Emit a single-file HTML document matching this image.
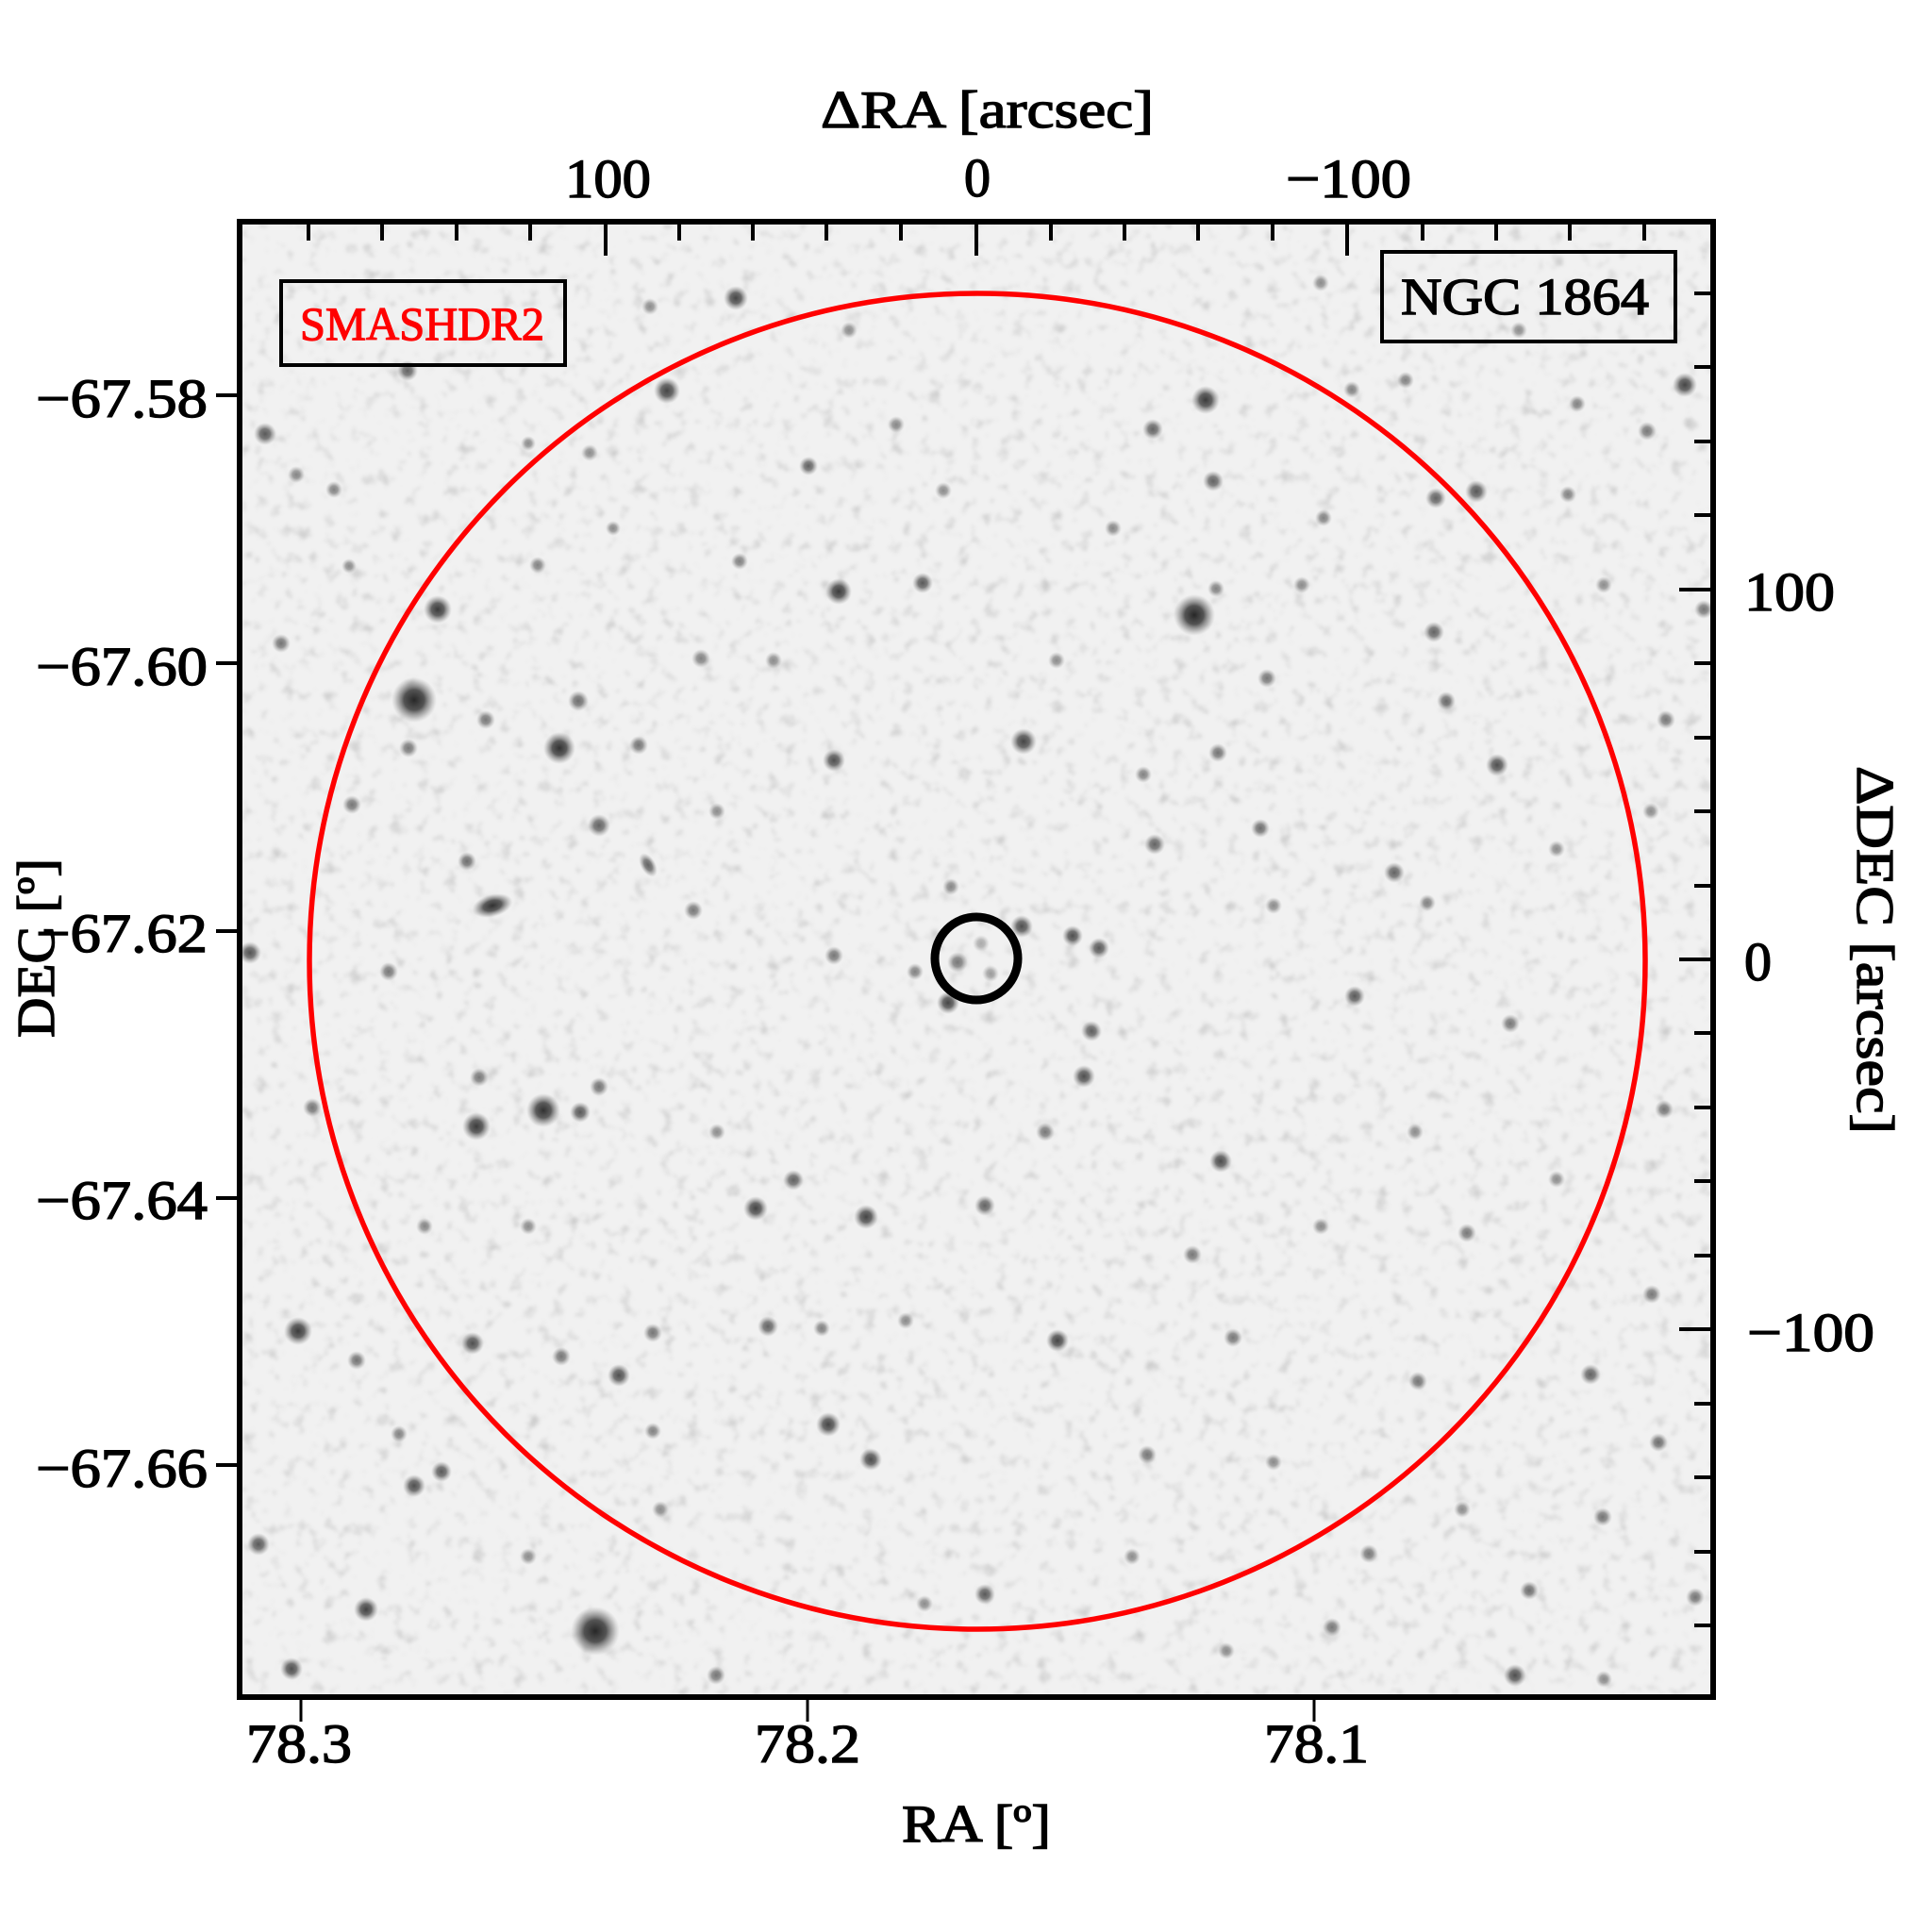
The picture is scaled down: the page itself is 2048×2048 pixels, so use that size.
<!DOCTYPE html>
<html>
<head>
<meta charset="utf-8">
<style>
html,body{margin:0;padding:0;background:#fff;}
svg{display:block;}
.t{font-family:"Liberation Serif","DejaVu Serif",serif;fill:#000;stroke:#000;stroke-width:1.4;}
</style>
</head>
<body>
<svg width="2048" height="2048" viewBox="0 0 2048 2048" xmlns="http://www.w3.org/2000/svg">
<defs>
<radialGradient id="g">
<stop offset="0" stop-color="#1c1c1c" stop-opacity="0.95"/>
<stop offset="0.45" stop-color="#383838" stop-opacity="0.85"/>
<stop offset="0.75" stop-color="#707070" stop-opacity="0.45"/>
<stop offset="1" stop-color="#999" stop-opacity="0"/>
</radialGradient>
<clipPath id="pc"><rect x="257" y="238" width="1556" height="1558"/></clipPath>
<filter id="nz" filterUnits="userSpaceOnUse" x="257" y="238" width="1556" height="1558">
<feTurbulence type="fractalNoise" baseFrequency="0.07" numOctaves="3" seed="7" result="t"/>
<feColorMatrix in="t" type="matrix" values="0 0 0 0 0.3  0 0 0 0 0.3  0 0 0 0 0.3  3 0 0 0 -1.7" result="c"/>
<feGaussianBlur in="c" stdDeviation="1.6"/>
</filter>
</defs>

<rect x="0" y="0" width="2048" height="2048" fill="#fff"/>
<!-- plot background -->
<rect x="254" y="235" width="1562" height="1564" fill="#f1f1f1"/>
<g clip-path="url(#pc)">
<rect x="257" y="238" width="1556" height="1558" fill="#000" filter="url(#nz)" opacity="0.4"/>
<g fill="url(#g)">
<!-- upper-left -->
<circle cx="439" cy="742" r="24"/>
<circle cx="593" cy="793" r="17" opacity=".95"/>
<circle cx="464" cy="646" r="15" opacity=".9"/>
<circle cx="707" cy="414" r="14" opacity=".85"/>
<circle cx="780" cy="316" r="13" opacity=".85"/>
<circle cx="889" cy="627" r="14" opacity=".9"/>
<circle cx="884" cy="806" r="12" opacity=".8"/>
<circle cx="978" cy="618" r="11" opacity=".75"/>
<circle cx="857" cy="494" r="10" opacity=".7"/>
<circle cx="281" cy="460" r="12" opacity=".75"/>
<circle cx="432" cy="393" r="11" opacity=".7"/>
<circle cx="613" cy="743" r="11" opacity=".65"/>
<circle cx="635" cy="875" r="12" opacity=".7"/>
<circle cx="495" cy="913" r="10" opacity=".65"/>
<circle cx="265" cy="1010" r="12" opacity=".75"/>
<circle cx="373" cy="853" r="10" opacity=".6"/>
<circle cx="298" cy="682" r="10" opacity=".6"/>
<circle cx="735" cy="965" r="10" opacity=".6"/>
<circle cx="677" cy="790" r="10" opacity=".6"/>
<circle cx="433" cy="793" r="10" opacity=".6"/>
<circle cx="412" cy="1030" r="10" opacity=".6"/>
<circle cx="515" cy="763" r="10" opacity=".6"/>
<circle cx="743" cy="698" r="10" opacity=".55"/>
<ellipse cx="687" cy="917" rx="14" ry="8" transform="rotate(60 687 917)" opacity=".7"/>
<circle cx="354" cy="519" r="9" opacity=".55"/>
<circle cx="570" cy="599" r="9" opacity=".55"/>
<circle cx="689" cy="325" r="9" opacity=".5"/>
<circle cx="314" cy="503" r="9" opacity=".5"/>
<circle cx="784" cy="595" r="9" opacity=".55"/>
<circle cx="1008" cy="940" r="9" opacity=".5"/>
<circle cx="884" cy="1013" r="10" opacity=".6"/>
<circle cx="970" cy="1030" r="9" opacity=".55"/>
<circle cx="625" cy="480" r="9" opacity=".5"/>
<circle cx="820" cy="700" r="9" opacity=".5"/>
<circle cx="560" cy="470" r="8" opacity=".5"/>
<circle cx="950" cy="450" r="9" opacity=".5"/>
<circle cx="900" cy="350" r="9" opacity=".5"/>
<circle cx="1000" cy="520" r="9" opacity=".5"/>
<circle cx="370" cy="600" r="8" opacity=".5"/>
<circle cx="650" cy="560" r="8" opacity=".5"/>
<circle cx="760" cy="860" r="9" opacity=".5"/>
<ellipse cx="522" cy="960" rx="22" ry="12" transform="rotate(-15 522 960)" opacity=".95"/>
<!-- upper-right -->
<circle cx="1266" cy="652" r="22"/>
<circle cx="1278" cy="424" r="15" opacity=".9"/>
<circle cx="1786" cy="408" r="13" opacity=".85"/>
<circle cx="1222" cy="455" r="11" opacity=".7"/>
<circle cx="1286" cy="510" r="11" opacity=".7"/>
<circle cx="1565" cy="521" r="12" opacity=".75"/>
<circle cx="1522" cy="528" r="11" opacity=".7"/>
<circle cx="1085" cy="786" r="14" opacity=".85"/>
<circle cx="1520" cy="670" r="11" opacity=".7"/>
<circle cx="1587" cy="811" r="12" opacity=".8"/>
<circle cx="1533" cy="743" r="10" opacity=".65"/>
<circle cx="1336" cy="878" r="10" opacity=".65"/>
<circle cx="1224" cy="895" r="11" opacity=".7"/>
<circle cx="1478" cy="925" r="11" opacity=".7"/>
<circle cx="1137" cy="992" r="11" opacity=".8"/>
<circle cx="1343" cy="719" r="10" opacity=".6"/>
<circle cx="1291" cy="798" r="10" opacity=".6"/>
<circle cx="1766" cy="763" r="10" opacity=".6"/>
<circle cx="1806" cy="646" r="10" opacity=".6"/>
<circle cx="1403" cy="549" r="9" opacity=".55"/>
<circle cx="1746" cy="457" r="10" opacity=".6"/>
<circle cx="1490" cy="403" r="9" opacity=".55"/>
<circle cx="1433" cy="413" r="9" opacity=".55"/>
<circle cx="1662" cy="524" r="9" opacity=".55"/>
<circle cx="1672" cy="428" r="9" opacity=".55"/>
<circle cx="1513" cy="957" r="9" opacity=".55"/>
<circle cx="1212" cy="821" r="9" opacity=".55"/>
<circle cx="1289" cy="624" r="9" opacity=".55"/>
<circle cx="1083" cy="982" r="12" opacity=".8"/>
<circle cx="1165" cy="1005" r="11" opacity=".75"/>
<circle cx="1120" cy="700" r="9" opacity=".5"/>
<circle cx="1180" cy="560" r="9" opacity=".5"/>
<circle cx="1380" cy="620" r="9" opacity=".5"/>
<circle cx="1650" cy="900" r="9" opacity=".5"/>
<circle cx="1700" cy="620" r="9" opacity=".5"/>
<circle cx="1400" cy="300" r="9" opacity=".5"/>
<circle cx="1610" cy="350" r="9" opacity=".5"/>
<circle cx="1750" cy="860" r="9" opacity=".5"/>
<circle cx="1350" cy="960" r="9" opacity=".5"/>
<!-- cluster core -->
<circle cx="1015" cy="1020" r="11" opacity=".6"/>
<circle cx="1050" cy="1032" r="9" opacity=".4"/>
<circle cx="1040" cy="1000" r="9" opacity=".35"/>
<!-- lower-left -->
<circle cx="631" cy="1729" r="26"/>
<circle cx="576" cy="1177" r="18" opacity=".95"/>
<circle cx="505" cy="1194" r="15" opacity=".9"/>
<circle cx="615" cy="1179" r="11" opacity=".75"/>
<circle cx="316" cy="1411" r="15" opacity=".9"/>
<circle cx="501" cy="1424" r="12" opacity=".8"/>
<circle cx="656" cy="1458" r="12" opacity=".8"/>
<circle cx="801" cy="1281" r="13" opacity=".85"/>
<circle cx="918" cy="1290" r="13" opacity=".85"/>
<circle cx="841" cy="1251" r="11" opacity=".7"/>
<circle cx="814" cy="1406" r="11" opacity=".7"/>
<circle cx="878" cy="1510" r="13" opacity=".85"/>
<circle cx="923" cy="1547" r="12" opacity=".8"/>
<circle cx="468" cy="1560" r="11" opacity=".75"/>
<circle cx="439" cy="1575" r="12" opacity=".8"/>
<circle cx="388" cy="1706" r="13" opacity=".85"/>
<circle cx="309" cy="1769" r="12" opacity=".8"/>
<circle cx="274" cy="1637" r="12" opacity=".75"/>
<circle cx="378" cy="1442" r="10" opacity=".6"/>
<circle cx="595" cy="1438" r="10" opacity=".6"/>
<circle cx="635" cy="1152" r="10" opacity=".6"/>
<circle cx="508" cy="1142" r="10" opacity=".6"/>
<circle cx="331" cy="1174" r="10" opacity=".6"/>
<circle cx="692" cy="1413" r="10" opacity=".6"/>
<circle cx="759" cy="1776" r="10" opacity=".6"/>
<circle cx="1005" cy="1063" r="12" opacity=".85"/>
<circle cx="423" cy="1520" r="9" opacity=".55"/>
<circle cx="871" cy="1408" r="9" opacity=".55"/>
<circle cx="692" cy="1517" r="9" opacity=".55"/>
<circle cx="560" cy="1300" r="9" opacity=".5"/>
<circle cx="700" cy="1600" r="9" opacity=".5"/>
<circle cx="450" cy="1300" r="9" opacity=".5"/>
<circle cx="760" cy="1200" r="9" opacity=".5"/>
<circle cx="960" cy="1400" r="9" opacity=".5"/>
<circle cx="560" cy="1650" r="9" opacity=".5"/>
<circle cx="980" cy="1700" r="9" opacity=".5"/>
<!-- lower-right -->
<circle cx="1121" cy="1421" r="12" opacity=".85"/>
<circle cx="1149" cy="1141" r="12" opacity=".8"/>
<circle cx="1157" cy="1093" r="11" opacity=".7"/>
<circle cx="1294" cy="1231" r="12" opacity=".8"/>
<circle cx="1436" cy="1056" r="11" opacity=".75"/>
<circle cx="1044" cy="1278" r="11" opacity=".7"/>
<circle cx="1044" cy="1690" r="11" opacity=".75"/>
<circle cx="1606" cy="1776" r="12" opacity=".8"/>
<circle cx="1686" cy="1457" r="11" opacity=".7"/>
<circle cx="1621" cy="1686" r="10" opacity=".65"/>
<circle cx="1758" cy="1529" r="10" opacity=".65"/>
<circle cx="1601" cy="1085" r="10" opacity=".6"/>
<circle cx="1503" cy="1464" r="10" opacity=".6"/>
<circle cx="1412" cy="1725" r="10" opacity=".6"/>
<circle cx="1699" cy="1608" r="10" opacity=".6"/>
<circle cx="1216" cy="1542" r="10" opacity=".6"/>
<circle cx="1307" cy="1418" r="10" opacity=".6"/>
<circle cx="1555" cy="1307" r="10" opacity=".6"/>
<circle cx="1764" cy="1176" r="10" opacity=".6"/>
<circle cx="1108" cy="1200" r="10" opacity=".6"/>
<circle cx="1264" cy="1330" r="10" opacity=".6"/>
<circle cx="1797" cy="1693" r="10" opacity=".6"/>
<circle cx="1451" cy="1647" r="10" opacity=".6"/>
<circle cx="1751" cy="1372" r="10" opacity=".6"/>
<circle cx="1200" cy="1650" r="9" opacity=".5"/>
<circle cx="1350" cy="1550" r="9" opacity=".5"/>
<circle cx="1500" cy="1200" r="9" opacity=".5"/>
<circle cx="1650" cy="1250" r="9" opacity=".5"/>
<circle cx="1400" cy="1300" r="9" opacity=".5"/>
<circle cx="1300" cy="1750" r="9" opacity=".5"/>
<circle cx="1700" cy="1780" r="9" opacity=".5"/>
<circle cx="1550" cy="1600" r="9" opacity=".5"/>
</g>
</g>

<!-- red circle -->
<circle cx="1036" cy="1019" r="708" fill="none" stroke="#ff0000" stroke-width="5.5"/>
<!-- black circle -->
<circle cx="1035" cy="1016" r="44" fill="none" stroke="#000" stroke-width="9"/>

<!-- label boxes -->
<rect x="298" y="298" width="301" height="89" fill="none" stroke="#000" stroke-width="4"/>
<text class="t" x="318" y="360" font-size="50" textLength="259" lengthAdjust="spacingAndGlyphs" style="fill:#ff0000;stroke:#ff0000;stroke-width:1.2">SMASHDR2</text>
<rect x="1465" y="267" width="311" height="95" fill="none" stroke="#000" stroke-width="4"/>
<text class="t" x="1485" y="333" font-size="55" textLength="263" lengthAdjust="spacingAndGlyphs">NGC 1864</text>

<!-- ticks -->
<g stroke="#000" stroke-width="4">
<path d="M327 238v17 M405 238v17 M484 238v17 M562 238v17 M720 238v17 M798 238v17 M876 238v17 M955 238v17 M1114 238v17 M1192 238v17 M1270 238v17 M1349 238v17 M1508 238v17 M1586 238v17 M1664 238v17 M1743 238v17"/>
<path d="M642 238v33 M1035 238v33 M1428 238v33"/>
<path d="M1813 311h-17 M1813 389h-17 M1813 468h-17 M1813 546h-17 M1813 703h-17 M1813 782h-17 M1813 860h-17 M1813 939h-17 M1813 1095h-17 M1813 1174h-17 M1813 1252h-17 M1813 1331h-17 M1813 1488h-17 M1813 1566h-17 M1813 1645h-17 M1813 1723h-17"/>
<path d="M1813 625h-33 M1813 1017h-33 M1813 1409h-33"/>
<path d="M254 419h-25 M254 703h-25 M254 987h-25 M254 1270h-25 M254 1553h-25"/>
</g>
<g stroke="#000" stroke-width="3">
<path d="M319 1799v26 M856 1799v26 M1393 1799v26"/>
</g>

<!-- frame -->
<rect x="254" y="235" width="1562" height="1564" fill="none" stroke="#000" stroke-width="6"/>

<!-- tick labels -->
<g class="t" font-size="58">
<text x="38" y="442" textLength="182" lengthAdjust="spacingAndGlyphs">−67.58</text>
<text x="38" y="726" textLength="182" lengthAdjust="spacingAndGlyphs">−67.60</text>
<text x="38" y="1009" textLength="182" lengthAdjust="spacingAndGlyphs">−67.62</text>
<text x="38" y="1292" textLength="182" lengthAdjust="spacingAndGlyphs">−67.64</text>
<text x="38" y="1576" textLength="182" lengthAdjust="spacingAndGlyphs">−67.66</text>

<text x="599" y="209" textLength="91" lengthAdjust="spacingAndGlyphs">100</text>
<text x="1022" y="208" textLength="28" lengthAdjust="spacingAndGlyphs">0</text>
<text x="1363" y="209" textLength="133" lengthAdjust="spacingAndGlyphs">−100</text>

<text x="1849" y="647" textLength="96" lengthAdjust="spacingAndGlyphs">100</text>
<text x="1849" y="1039" textLength="29" lengthAdjust="spacingAndGlyphs">0</text>
<text x="1852" y="1432" textLength="135" lengthAdjust="spacingAndGlyphs">−100</text>

<text x="261" y="1868" textLength="112" lengthAdjust="spacingAndGlyphs">78.3</text>
<text x="800" y="1868" textLength="112" lengthAdjust="spacingAndGlyphs">78.2</text>
<text x="1340" y="1868" textLength="111" lengthAdjust="spacingAndGlyphs">78.1</text>
</g>

<!-- axis titles -->
<g class="t" font-size="56">
<text x="870" y="135" textLength="353" lengthAdjust="spacingAndGlyphs">ΔRA [arcsec]</text>
<text x="956" y="1952" textLength="158" lengthAdjust="spacingAndGlyphs">RA [º]</text>
<text transform="translate(57 1100) rotate(-90)" x="0" y="0" textLength="190" lengthAdjust="spacingAndGlyphs">DEC [º]</text>
<text transform="translate(1969 812) rotate(90)" x="0" y="0" textLength="390" lengthAdjust="spacingAndGlyphs">ΔDEC [arcsec]</text>
</g>
</svg>
</body>
</html>
